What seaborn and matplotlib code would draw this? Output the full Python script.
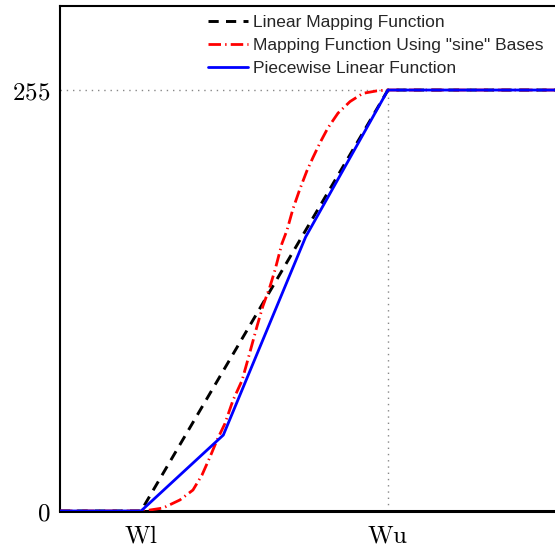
import numpy as np
import pandas as pd
import matplotlib
matplotlib.use("Agg")
import matplotlib.pyplot as plt
import seaborn as sns

# ---- data ----
x_left, Wl, Wu, x_right = 1.6, 100, 400, 609
ymax_val = 255

linear_x = [x_left, Wl, Wu, x_right]
linear_y = [0, 0, 255, 255]

sine_x = [x_left, 100, 107, 126.7, 147.3, 163.1, 174.1, 183.8, 192.4, 202, 211.7, 222.7,
          230, 241, 248, 256.7, 262.8, 271.2, 277.3, 284.6, 293, 301.5, 308.8,
          317.4, 327, 339.3, 353.9, 369.6, 386.6, 398.8, 400, x_right]
sine_y = [0, 0, 0.3, 1.8, 6.7, 12.7, 21.8, 32.7, 43, 53, 67, 79,
          92, 112, 124, 136, 146, 162, 170, 183, 195, 206, 214,
          223, 232, 241, 248, 253, 254.5, 255, 255, 255]

piece_x = [x_left, Wl, 200, 300, Wu, x_right]
piece_y = [0, 0, 46, 166, 255, 255]

xtick_pos = [Wl, Wu]
xtick_labels = [r"$\mathrm{Wl}$", r"$\mathrm{Wu}$"]
ytick_pos = [0, 255]
ytick_labels = [r"$0$", r"$255$"]

labels = ["Linear Mapping Function",
          'Mapping Function Using "sine" Bases',
          "Piecewise Linear Function"]

# ---- figure ----
sns.set_theme(style="white")
plt.rcParams["mathtext.fontset"] = "cm"
plt.rcParams["font.family"] = ["Liberation Sans", "DejaVu Sans"]

W, H = 555, 548
fig = plt.figure(figsize=(W / 100, H / 100), dpi=100)
ax = fig.add_axes([60 / W, (H - 511) / H, 500 / W, 505 / H])

# reference dotted lines
ax.plot([x_left, Wu], [255, 255], color="#888888", lw=1.0,
        linestyle=(0, (1, 3.5)), zorder=1)
ax.plot([Wu, Wu], [0, 255], color="#888888", lw=1.0,
        linestyle=(0, (1, 3.5)), zorder=1)

sns.lineplot(x=linear_x, y=linear_y, ax=ax, color="black", lw=2.1,
             linestyle=(0, (3.5, 2.5)), label=labels[0], sort=False,
             estimator=None, zorder=2)
sns.lineplot(x=sine_x, y=sine_y, ax=ax, color="red", lw=2.0,
             linestyle=(0, (4.5, 1.5, 0.5, 1.5)), label=labels[1], sort=False,
             estimator=None, zorder=3)
sns.lineplot(x=piece_x, y=piece_y, ax=ax, color="blue", lw=2.0,
             label=labels[2], sort=False, estimator=None, zorder=4)

ax.set_xlim(x_left, x_right)
ax.set_ylim(0, 305.9)
ax.set_xticks(xtick_pos)
ax.set_xticklabels(xtick_labels)
ax.set_yticks(ytick_pos)
ax.set_yticklabels(ytick_labels)
ax.tick_params(axis="both", length=0, labelsize=18, colors="black")
ax.tick_params(axis="x", pad=9)
ax.tick_params(axis="y", pad=7)
ax.set_xlabel("")
ax.set_ylabel("")

for side in ["left", "top"]:
    ax.spines[side].set_linewidth(1.5)
    ax.spines[side].set_color("black")
ax.spines["bottom"].set_linewidth(2.2)
ax.spines["bottom"].set_color("black")
ax.spines["right"].set_visible(False)

leg = ax.legend(loc="upper left", bbox_to_anchor=(208 / W, 1 - 15 / H),
                bbox_transform=fig.transFigure, frameon=False, fontsize=12.5,
                handlelength=2.3, handletextpad=0.3, labelspacing=0.46,
                borderpad=0, borderaxespad=0)

fig.savefig("out.png", dpi=100)
